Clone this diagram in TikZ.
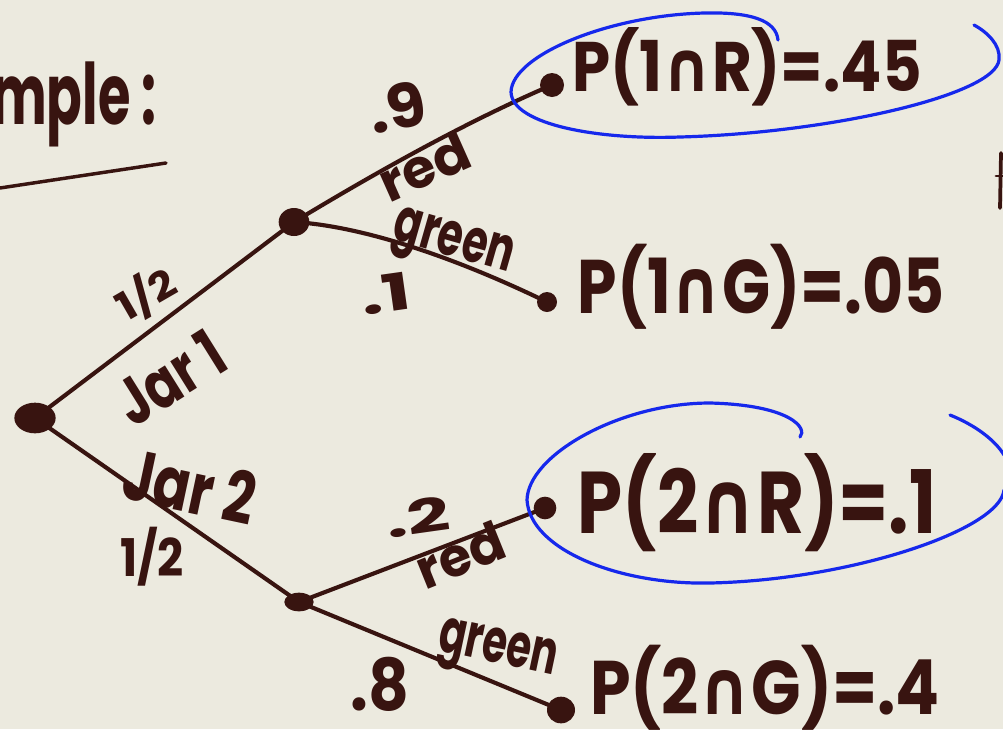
\documentclass[tikz,border=0pt]{standalone}
\usepackage{fontspec}
\usepackage{graphicx}
\usetikzlibrary{shapes.geometric}
\setmainfont{Poppins}
\newfontfamily\dvfont{DejaVu Sans}
\definecolor{paper}{RGB}{236,234,223}
\definecolor{ink}{RGB}{56,20,16}
\definecolor{loopblue}{RGB}{22,40,236}
\newcommand{\rsz}[3]{\resizebox{#1}{#2}{#3}}
\newcommand{\capp}{{\dvfont\bfseries ∩}}
\begin{document}
\begin{tikzpicture}[x=0.75pt,y=-0.75pt,
  dotnode/.style={ellipse,fill=ink,inner sep=0pt,minimum width=#1,minimum height=#1},
  edge/.style={draw=ink,line width=3.1pt,line cap=round},
  lbl/.style={text=ink,font=\bfseries,inner sep=0pt},
  loopline/.style={draw=loopblue,line width=2.4pt,line cap=round}]
\fill[paper] (0,0) rectangle (1003,729);
\useasboundingbox (0,0) rectangle (1003,729);

% tree nodes
\node[dotnode=23pt,minimum width=31pt] (root) at (35,418) {};
\node[dotnode=21pt,minimum width=23pt] (j1) at (294,222) {};
\node[dotnode=14pt,minimum width=22pt] (j2) at (299,602) {};
\node[dotnode=18pt] (l1r) at (552,85) {};
\node[dotnode=15pt] (l1g) at (547,302) {};
\node[dotnode=17pt] (l2r) at (545,508) {};
\node[dotnode=20pt,minimum width=21pt] (l2g) at (561,710) {};

% edges
\draw[edge] (root.center) -- (j1.center);
\draw[edge] (root.center) -- (j2.center);
\draw[edge] (j1.center) .. controls (380,170) and (470,120) .. (l1r.center);
\draw[edge] (j1.center) .. controls (360,226) and (450,255) .. (l1g.center);
\draw[edge] (j2.center) -- (l2r.center);
\draw[edge] (j2.center) -- (l2g.center);

% heading
\node[lbl] (head) at (74,104) {\rsz{124pt}{47pt}{mple :}};
\coordinate (ul1) at (0,188);
\coordinate (ul2) at (166,163);
\draw[edge,line width=2.6pt] (ul1) -- (ul2);

% branch labels
\node[lbl,rotate=12] (p9) at (397,107) {\rsz{43pt}{34pt}{.9}};
\node[lbl,rotate=24] (red1) at (424,166) {\rsz{70pt}{30pt}{red}};
\node[lbl,rotate=-16] (green1) at (452,247) {\rsz{92pt}{26pt}{green}};
\node[lbl,rotate=8] (p1) at (386,294) {\rsz{38pt}{28pt}{.1}};
\node[lbl,rotate=30] (half1) at (146,294) {\rsz{46pt}{28pt}{1/2}};
\node[lbl,rotate=32] (jar1) at (170,378) {\rsz{86pt}{36pt}{Jar 1}};
\node[lbl,rotate=-12] (jar2) at (190,486) {\rsz{100pt}{40pt}{Jar 2}};
\node[lbl] (half2) at (152,557) {\rsz{48pt}{37pt}{1/2}};
\node[lbl,rotate=8] (p2) at (418,517) {\rsz{48pt}{26pt}{.2}};
\node[lbl,rotate=22] (red2) at (460,555) {\rsz{68pt}{30pt}{red}};
\node[lbl,rotate=-12] (green2) at (497,654) {\rsz{90pt}{26pt}{green}};
\node[lbl] (p8) at (380,684) {\rsz{44pt}{40pt}{.8}};

% results
\node[lbl] (r1) at (747,67) {\rsz{262pt}{48pt}{P(1\capp R)=.45}};
\node[lbl] (r2) at (761,287) {\rsz{275pt}{52pt}{P(1\capp G)=.05}};
\node[lbl] (r3) at (757,503) {\rsz{269pt}{60pt}{P(2\capp R)=.1}};
\node[lbl] (r4) at (765,688) {\rsz{262pt}{52pt}{P(2\capp G)=.4}};

% blue loops
\draw[loopline] (778,40) .. controls (776,20) and (750,12) .. (705,13)
  .. controls (610,15) and (512,55) .. (511,92)
  .. controls (512,125) and (600,140) .. (680,137)
  .. controls (830,133) and (995,95) .. (999,60)
  .. controls (1001,45) and (987,32) .. (974,25);
\draw[loopline] (800,437) .. controls (808,428) and (790,405) .. (710,403)
  .. controls (620,403) and (528,455) .. (527,500)
  .. controls (530,550) and (620,585) .. (710,583)
  .. controls (850,580) and (1000,530) .. (1004,490);
\draw[loopline] (950,415) .. controls (975,425) and (995,440) .. (1004,455);

% partial mark at right edge
\draw[edge,line width=2.8pt] (1001,153) -- (1000,208);
\draw[edge,line width=2.2pt] (996,176) -- (1003,176);
\end{tikzpicture}
\end{document}
